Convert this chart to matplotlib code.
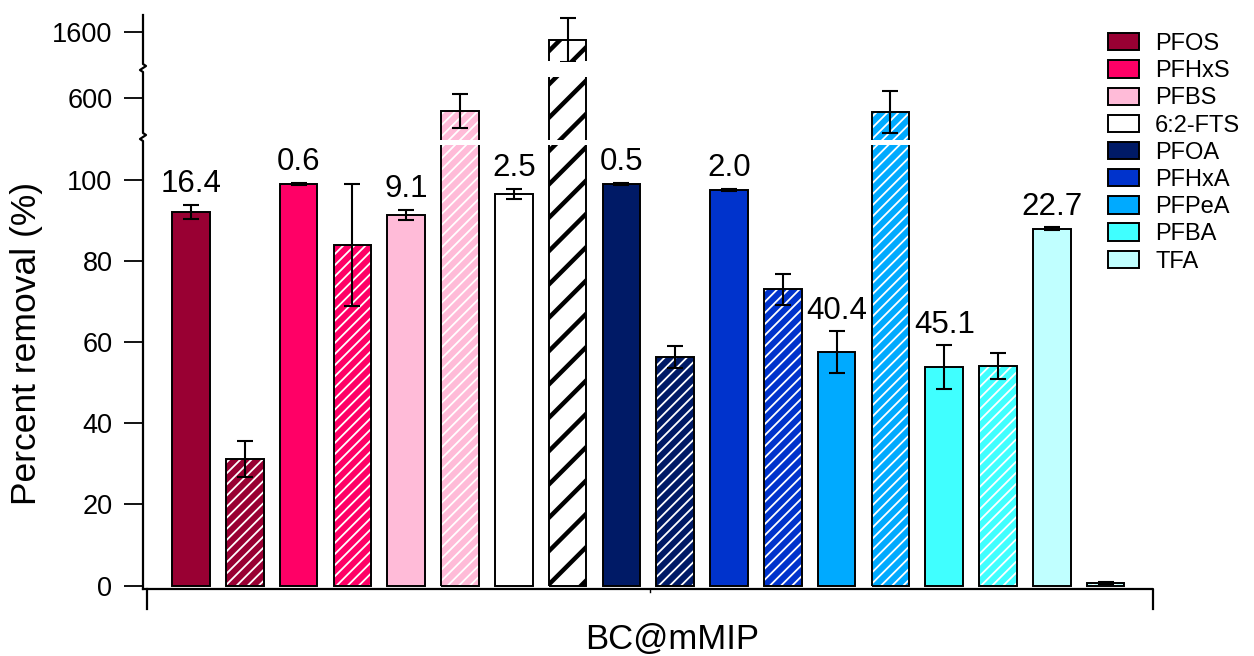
import numpy as np
import matplotlib as mpl
import matplotlib.pyplot as plt
from matplotlib.patches import Patch
from matplotlib.lines import Line2D

plt.rcParams['font.family'] = ['Liberation Sans', 'DejaVu Sans']

compounds = ["PFOS", "PFHxS", "PFBS", "6:2-FTS", "PFOA", "PFHxA", "PFPeA", "PFBA", "TFA"]
colors = ["#990033", "#FF0066", "#FFBBD8", "#FFFFFF", "#001A66",
          "#0033CC", "#00AAFF", "#40FFFF", "#C0FFFF"]

# percent removal, plain bars and hatched bars for each compound
solid_vals = [92.1, 99.0, 91.4, 96.6, 99.0, 97.5, 57.5, 53.8, 88.0]
solid_err = [1.8, 0.3, 1.2, 1.2, 0.3, 0.3, 5.2, 5.4, 0.3]
hatched_vals = [31.2, 84.0, 535, 1560, 56.3, 73.0, 530, 54.1, 0.6]
hatched_err = [4.4, 15.0, 85, 112, 2.7, 3.9, 105, 3.2, 0.3]
bar_labels = ["16.4", "0.6", "9.1", "2.5", "0.5", "2.0", "40.4", "45.1", "22.7"]

W, H = 1254, 656


def fx(px):
    return px / W


def fy(py):
    return 1 - py / H


fig = plt.figure(figsize=(W / 100, H / 100), dpi=100)

# broken y axis: three stacked segments (pixel extents top -> bottom)
left, right = 143, 1153
segments = [
    (15, 61, (1455, 1685), [1600]),
    (77, 140, (390, 705), [600]),
    (145, 589, (-0.86, 108.6), [0, 20, 40, 60, 80, 100]),
]
axes = []
for top, bot, ylim, ticks in segments:
    ax = fig.add_axes([fx(left), fy(bot), fx(right) - fx(left), (bot - top) / H])
    ax.set_ylim(*ylim)
    ax.set_yticks(ticks)
    ax.set_xlim(-0.892, 17.88)
    ax.set_xticks([])
    for s in ax.spines.values():
        s.set_visible(False)
    ax.tick_params(axis='y', direction='out', length=14, width=1.3,
                   labelsize=19.5, pad=8, colors='black')
    ax.patch.set_alpha(0)
    axes.append(ax)
ax_low = axes[-1]

width = 0.70
xs = np.arange(len(compounds)) * 2
xh = xs + 1

for ax in axes:
    for i, c in enumerate(colors):
        ax.bar(xs[i], solid_vals[i], width, color=c, edgecolor='black',
               linewidth=1.4, zorder=2)
        white_bar = c == "#FFFFFF"
        hatch = '/' if white_bar else '///'
        hlw = 3.2 if white_bar else 1.3
        with mpl.rc_context({'hatch.linewidth': hlw}):
            hb = ax.bar(xh[i], hatched_vals[i], width, color=c,
                        edgecolor='black' if white_bar else 'white',
                        linewidth=0, hatch=hatch, zorder=2)
        for p in hb:
            if hasattr(p, 'set_hatch_linewidth'):
                p.set_hatch_linewidth(hlw)
        ax.bar(xh[i], hatched_vals[i], width, fill=False, edgecolor='black',
               linewidth=1.4, zorder=3)
    ax.errorbar(xs, solid_vals, yerr=solid_err, fmt='none', ecolor='black',
                elinewidth=1.5, capsize=6, capthick=1.5, zorder=4)
    ax.errorbar(xh, hatched_vals, yerr=hatched_err, fmt='none', ecolor='black',
                elinewidth=1.5, capsize=6, capthick=1.5, zorder=4)

for i, txt in enumerate(bar_labels):
    ax_low.annotate(txt, xy=(xs[i], solid_vals[i] + solid_err[i]),
                    xytext=(0, 9), textcoords='offset points',
                    ha='center', va='baseline', fontsize=22.5)

# left spine with break marks
spine_px = [(143, 15), (143, 64), (146, 66), (140, 70), (143, 72),
            (143, 133), (146, 135), (140, 139), (143, 141), (143, 589)]
fig.add_artist(Line2D([fx(p[0]) for p in spine_px], [fy(p[1]) for p in spine_px],
                      color='black', linewidth=1.6))

# bottom bracket axis
fig.add_artist(Line2D([fx(143), fx(1153), fx(1153)], [fy(589), fy(589), fy(609)],
                      color='black', linewidth=1.6))
fig.add_artist(Line2D([fx(147), fx(147)], [fy(589), fy(609)],
                      color='black', linewidth=1.6))
fig.add_artist(Line2D([fx(650), fx(650)], [fy(589), fy(592)],
                      color='black', linewidth=1.0))

fig.text(fx(27), fy(343), "Percent removal (%)", rotation=90,
         ha='center', va='center', fontsize=25.5)
fig.text(fx(672), fy(640), "BC@mMIP", ha='center', va='center', fontsize=25)

handles = [Patch(facecolor=c, edgecolor='black', linewidth=1.4) for c in colors]
fig.legend(handles, compounds, loc='upper left',
           bbox_to_anchor=(fx(1108), fy(33)), frameon=False, fontsize=17,
           handlelength=1.3, handleheight=0.75, labelspacing=0.22,
           handletextpad=0.7, borderpad=0, borderaxespad=0)

fig.savefig("out.png", dpi=100)
